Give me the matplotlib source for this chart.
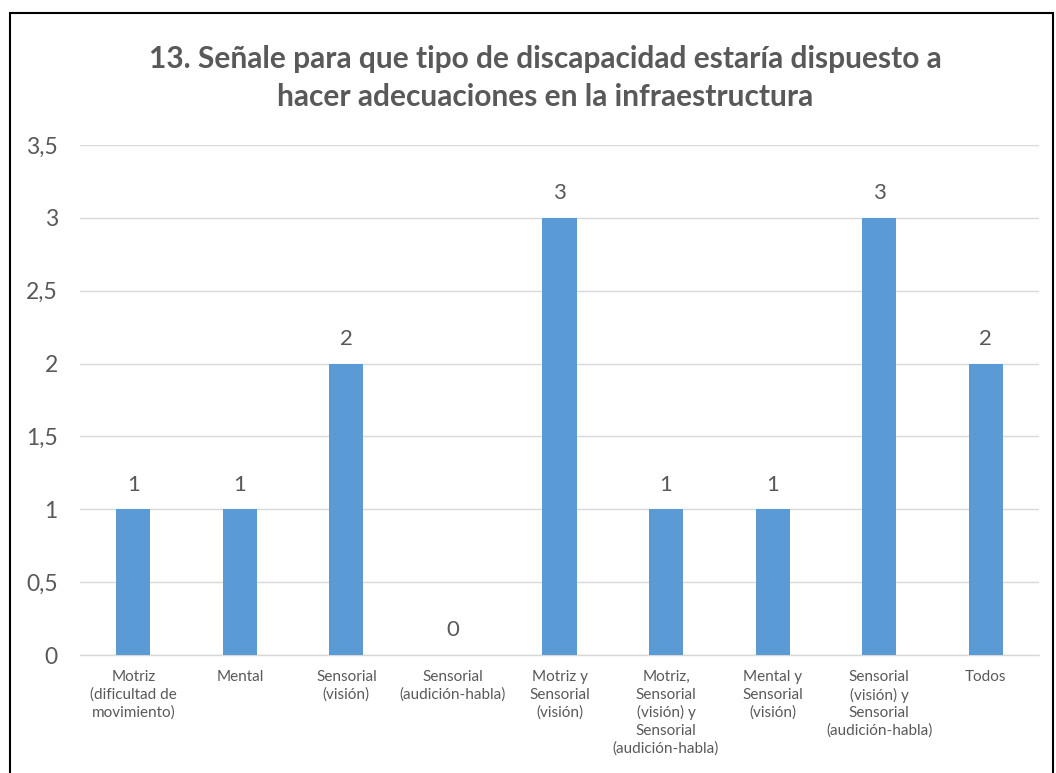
import matplotlib
matplotlib.use("Agg")
import matplotlib.pyplot as plt
from matplotlib.patches import Rectangle
import numpy as np

categorias = [
    "Motriz\n(dificultad de\nmovimiento)",
    "Mental",
    "Sensorial\n(visión)",
    "Sensorial\n(audición-habla)",
    "Motriz y\nSensorial\n(visión)",
    "Motriz,\nSensorial\n(visión) y\nSensorial\n(audición-habla)",
    "Mental y\nSensorial\n(visión)",
    "Sensorial\n(visión) y\nSensorial\n(audición-habla)",
    "Todos",
]
valores = [1, 1, 2, 0, 3, 1, 1, 3, 2]
yticks = [0, 0.5, 1, 1.5, 2, 2.5, 3, 3.5]
ytick_labels = ["0", "0,5", "1", "1,5", "2", "2,5", "3", "3,5"]
titulo = "13. Señale para que tipo de discapacidad estaría dispuesto a\nhacer adecuaciones en la infraestructura"

plt.rcParams['font.family'] = ['Lato', 'DejaVu Sans']
gris = '#595959'
azul = '#5B9BD5'

fig = plt.figure(figsize=(10.56, 7.73), dpi=100)
ax = fig.add_axes([80 / 1056, 1 - 655 / 773, (1039 - 80) / 1056, (655 - 145) / 773])

x = np.arange(len(categorias))
ax.bar(x, valores, width=0.32, color=azul, zorder=3)
for xi, v in zip(x, valores):
    ax.text(xi, v + 0.1, str(v), ha='center', va='bottom', fontsize=16, color=gris)

ax.set_xlim(-0.5, len(categorias) - 0.5)
ax.set_ylim(0, 3.5)
ax.set_yticks(yticks)
ax.set_yticklabels(ytick_labels, fontsize=16.5, color=gris)
ax.set_xticks(x)
ax.set_xticklabels(categorias, fontsize=11, color=gris, linespacing=1.3)
ax.tick_params(axis='both', length=0)
ax.tick_params(axis='y', pad=16)
ax.tick_params(axis='x', pad=11)
ax.yaxis.grid(True, color='#D9D9D9', linewidth=1, zorder=0)
for s in ['top', 'right', 'left']:
    ax.spines[s].set_visible(False)
ax.spines['bottom'].set_color('#D9D9D9')
ax.spines['bottom'].set_linewidth(1)

fig.text(545 / 1056, 1 - 78 / 773, titulo, ha='center', va='center', fontsize=21.5,
         fontweight='bold', color=gris, linespacing=1.45)

fig.patches.append(Rectangle((10 / 1056, -0.01), 1043 / 1056, 1 - 13 / 773 + 0.01,
                             transform=fig.transFigure, fill=False, edgecolor='black',
                             linewidth=1.5))

fig.savefig("out.png", dpi=100)
